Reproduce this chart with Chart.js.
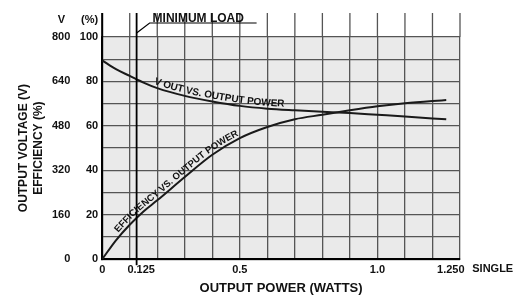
<!DOCTYPE html>
<html>
<head>
<meta charset="utf-8">
<script src="https://cdn.jsdelivr.net/npm/chart.js@4.4.1/dist/chart.umd.min.js"></script>
<style>
  body { margin: 0; background: #fff; }
</style>
</head>
<body>
<canvas id="chart-1" width="520" height="302"></canvas>
<script>
const power = [0, 0.05, 0.1, 0.15, 0.2, 0.3, 0.4, 0.5, 0.6, 0.7, 0.8, 0.9, 1.0, 1.1, 1.2, 1.25];
// Output voltage (V)
const vOut = [716, 684, 660, 636, 616, 588, 568, 552, 542, 536, 531, 526, 520, 514, 507, 504];
// Efficiency (%)
const efficiency = [0, 8.5, 15.5, 21.5, 26.5, 37, 47, 54.5, 59.5, 63, 65, 67, 68.8, 70.2, 71.2, 71.6];

// x axis: grid every 0.1 W, labels only at a few values
const xGrid = [0, 0.1, 0.125, 0.2, 0.3, 0.4, 0.5, 0.6, 0.7, 0.8, 0.9, 1.0, 1.1, 1.2, 1.25, 1.3];
const xTickValues = [0, 0.125, 0.5, 1.0, 1.25];
const xTickLabels = ["0", "   0.125", "0.5", "1.0", "   1.250"];
const minLoad = 0.125;

// y axes
const voltTicks = [0, 160, 320, 480, 640, 800];
const pctGrid = [0, 10, 20, 30, 40, 50, 60, 70, 80, 90, 100];
const pctTicks = [0, 20, 40, 60, 80, 100];

const FONT = "'Liberation Sans', Arial, sans-serif";
Chart.defaults.font.family = FONT;
Chart.defaults.font.weight = "bold";
Chart.defaults.color = "#111";

const GRID = "#555";
const VPAD = 5.5; // tick padding of the volt axis

// sample the drawn bezier of a line dataset
function curvePath(meta) {
  const pts = meta.data;
  const out = [];
  for (let i = 0; i < pts.length - 1; i++) {
    const p0 = pts[i], p1 = pts[i + 1];
    const c1x = p0.cp2x ?? p0.x, c1y = p0.cp2y ?? p0.y;
    const c2x = p1.cp1x ?? p1.x, c2y = p1.cp1y ?? p1.y;
    for (let k = 0; k < 12; k++) {
      const t = k / 12, u = 1 - t;
      out.push({
        x: u * u * u * p0.x + 3 * u * u * t * c1x + 3 * u * t * t * c2x + t * t * t * p1.x,
        y: u * u * u * p0.y + 3 * u * u * t * c1y + 3 * u * t * t * c2y + t * t * t * p1.y,
      });
    }
  }
  const last = pts[pts.length - 1];
  out.push({ x: last.x, y: last.y });
  return out;
}

function textOnCurve(ctx, path, text, startPx, offset) {
  const cum = [0];
  for (let i = 1; i < path.length; i++) {
    cum[i] = cum[i - 1] + Math.hypot(path[i].x - path[i - 1].x, path[i].y - path[i - 1].y);
  }
  const at = (s) => {
    let i = 0;
    while (i < path.length - 2 && cum[i + 1] < s) i++;
    const seg = cum[i + 1] - cum[i] || 1;
    const f = (s - cum[i]) / seg;
    const a = path[i], b = path[i + 1];
    return { x: a.x + (b.x - a.x) * f, y: a.y + (b.y - a.y) * f, ang: Math.atan2(b.y - a.y, b.x - a.x) };
  };
  let j = 0;
  while (j < path.length - 1 && path[j].x < startPx) j++;
  let s = cum[j];
  for (const ch of text) {
    const w = ctx.measureText(ch).width;
    const p = at(s + w / 2);
    ctx.save();
    ctx.translate(p.x, p.y);
    ctx.rotate(p.ang);
    ctx.fillText(ch, 0, -offset);
    ctx.restore();
    s += w;
  }
}

const paperPlugin = {
  id: "paper",
  beforeDraw(chart) {
    const { ctx, chartArea: a } = chart;
    ctx.save();
    ctx.fillStyle = "#eaeaea";
    ctx.fillRect(a.left, a.top, a.right - a.left, a.bottom - a.top);
    ctx.restore();
  },
  afterDraw(chart) {
    const { ctx, chartArea: a, scales } = chart;
    const x = scales.x;
    const ext = a.top - 24;
    ctx.save();

    // vertical lines run on above the 100 % line
    ctx.strokeStyle = GRID;
    ctx.lineWidth = 1.3;
    xGrid.forEach((v) => {
      if (v === 1.25 || v === minLoad) return;
      const px = x.getPixelForValue(v);
      ctx.beginPath(); ctx.moveTo(px, ext); ctx.lineTo(px, a.top); ctx.stroke();
    });
    ctx.strokeStyle = "#000";
    ctx.lineWidth = 2;
    ctx.beginPath(); ctx.moveTo(a.left, ext); ctx.lineTo(a.left, a.top); ctx.stroke();

    // minimum load marker
    const pm = x.getPixelForValue(minLoad);
    ctx.lineWidth = 1.8;
    ctx.beginPath(); ctx.moveTo(pm, ext); ctx.lineTo(pm, a.bottom + 6); ctx.stroke();
    ctx.lineWidth = 1.2;
    ctx.beginPath();
    ctx.moveTo(pm, a.top - 4);
    ctx.lineTo(pm + 13, a.top - 14);
    ctx.lineTo(pm + 120, a.top - 14);
    ctx.stroke();
    ctx.fillStyle = "#111";
    ctx.font = "bold 12px " + FONT;
    ctx.textAlign = "left";
    ctx.textBaseline = "alphabetic";
    ctx.fillText("MINIMUM LOAD", pm + 16, a.top - 15.5);

    // unit headers over the y tick columns
    ctx.font = "bold 11px " + FONT;
    ctx.textBaseline = "middle";
    ctx.textAlign = "center";
    ctx.fillText("V", scales.yV.right - VPAD - 9, a.top - 17);
    ctx.textAlign = "right";
    ctx.fillText("(%)", scales.y.right - 4, a.top - 17);

    // "SINGLE" after the last x label
    const p125 = x.getPixelForValue(1.25);
    ctx.textAlign = "left";
    ctx.textBaseline = "top";
    ctx.fillText("SINGLE", p125 + 26, a.bottom + 4);

    // labels riding on the curves
    ctx.font = "bold 10px " + FONT;
    ctx.textAlign = "center";
    ctx.textBaseline = "alphabetic";
    textOnCurve(ctx, curvePath(chart.getDatasetMeta(0)), "V OUT VS. OUTPUT POWER", x.getPixelForValue(0.18), 3);
    ctx.font = "bold 9.5px " + FONT;
    textOnCurve(ctx, curvePath(chart.getDatasetMeta(1)), "EFFICIENCY VS. OUTPUT POWER", x.getPixelForValue(0.065), 3);

    ctx.restore();
  },
};

const ctx1 = document.getElementById("chart-1").getContext("2d");
const myChart = new Chart(ctx1, {
  type: "line",
  data: {
    datasets: [
      {
        label: "V OUT VS. OUTPUT POWER",
        data: power.map((p, i) => ({ x: p, y: vOut[i] })),
        yAxisID: "yV",
      },
      {
        label: "EFFICIENCY VS. OUTPUT POWER",
        data: power.map((p, i) => ({ x: p, y: efficiency[i] })),
        yAxisID: "y",
      },
    ],
  },
  options: {
    responsive: false,
    animation: false,
    layout: { padding: { left: 6, top: 37, right: 60, bottom: 6 } },
    plugins: { legend: { display: false }, tooltip: { enabled: false } },
    elements: {
      point: { radius: 0 },
      line: { borderWidth: 2, borderColor: "#1a1a1a", cubicInterpolationMode: "monotone", fill: false },
    },
    scales: {
      x: {
        type: "linear",
        min: 0,
        max: 1.3,
        afterBuildTicks: (s) => { s.ticks = xGrid.map((v) => ({ value: v })); },
        ticks: {
          autoSkip: false,
          maxRotation: 0,
          padding: 4,
          font: { size: 11 },
          callback: (v) => {
            const i = xTickValues.findIndex((t) => Math.abs(t - v) < 1e-6);
            return i < 0 ? "" : xTickLabels[i];
          },
        },
        grid: {
          drawTicks: false,
          color: (c) => (c.tick && (c.tick.value === 1.25 || c.tick.value === minLoad) ? "rgba(0,0,0,0)" : GRID),
          lineWidth: 1.3,
        },
        border: { color: "#000", width: 2 },
        title: {
          display: true,
          text: "OUTPUT POWER (WATTS)",
          font: { size: 13 },
          padding: { top: 0, bottom: 0 },
        },
      },
      yV: {
        position: "left",
        weight: 1,
        min: 0,
        max: 800,
        afterBuildTicks: (s) => { s.ticks = voltTicks.map((v) => ({ value: v })); },
        ticks: { padding: VPAD, font: { size: 11 } },
        grid: { display: false, drawTicks: false },
        border: { display: false },
        title: {
          display: true,
          text: ["OUTPUT VOLTAGE (V)", "EFFICIENCY (%)"],
          font: { size: 12, lineHeight: "15px" },
          padding: { top: 10.5, bottom: 0 },
        },
      },
      y: {
        position: "left",
        weight: 0,
        min: 0,
        max: 100,
        afterBuildTicks: (s) => { s.ticks = pctGrid.map((v) => ({ value: v })); },
        ticks: {
          padding: 4,
          font: { size: 11 },
          callback: (v) => (pctTicks.includes(v) ? String(v) : ""),
        },
        grid: { drawTicks: false, color: GRID, lineWidth: 1.3 },
        border: { color: "#000", width: 2 },
      },
    },
  },
  plugins: [paperPlugin],
});
</script>
</body>
</html>
